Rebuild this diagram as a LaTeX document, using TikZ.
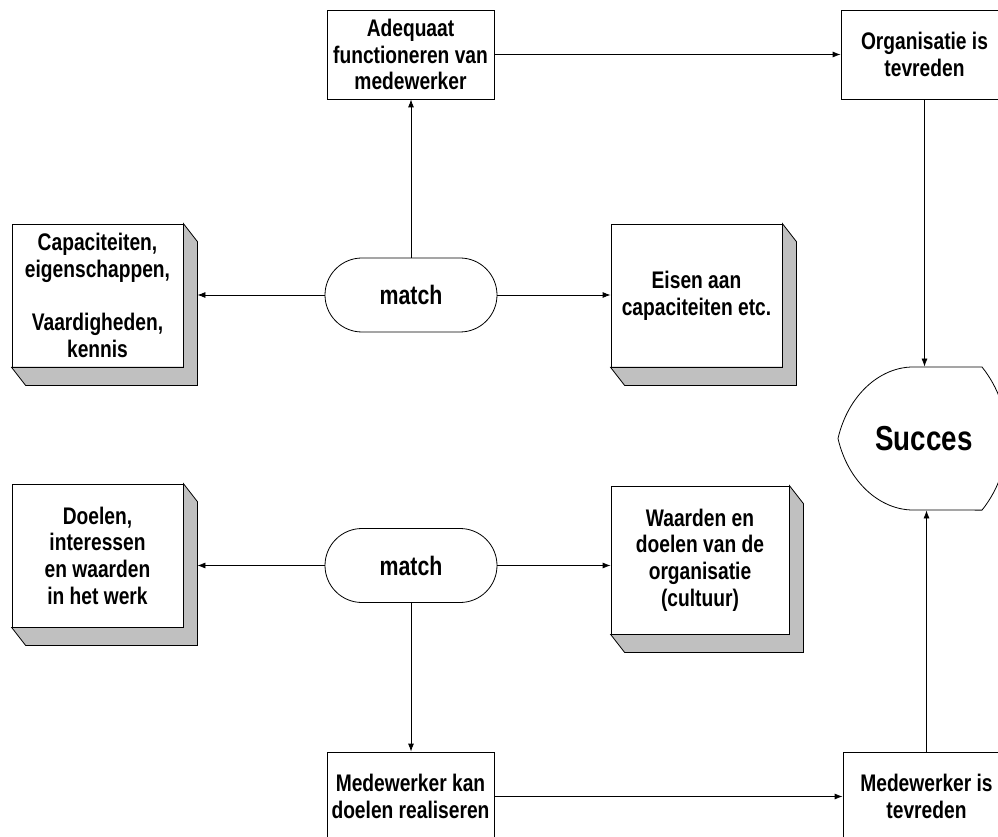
\documentclass[tikz,border=0pt]{standalone}
\usepackage{fontspec}
\setmainfont{Liberation Sans}[FakeStretch=0.8]
\usepackage{tikz}
\usetikzlibrary{shapes.misc}
\usetikzlibrary{calc}
\usetikzlibrary{arrows.meta}
\definecolor{sidegray}{RGB}{192,192,192}

\tikzset{
  boxtext/.style={font=\bfseries\fontsize{18}{20}\selectfont, align=center, inner sep=0pt},
  flatbox/.style={boxtext, draw, fill=white, minimum width=125.25pt, minimum height=66.75pt},
  deepbox/.style={boxtext, draw, fill=white, minimum width=128.25pt, minimum height=107.25pt},
  matchbox/.style={rounded rectangle, draw, fill=white, inner sep=0pt,
    font=\bfseries\fontsize{20}{22}\selectfont, minimum width=129pt, minimum height=55.5pt},
  link/.style={-{Latex[length=6pt,width=4.5pt]}, line width=0.6pt}
}

\begin{document}
\begin{tikzpicture}[x=0.75pt,y=0.75pt,yscale=-1,line width=0.6pt]
\useasboundingbox (0,0) rectangle (998,837);
\clip (0,0) rectangle (998,837);

% Top row
\node[flatbox] (adeq) at (410.5,54.5) {Adequaat\\functioneren van\\medewerker};
\node[flatbox] (org) at (924.5,54.5) {Organisatie is\\tevreden};

% Upper match row
\node[deepbox] (cap) at (97.5,295.5) {Capaciteiten,\\eigenschappen,\\~\\Vaardigheden,\\kennis};
\node[matchbox] (match1) at (411,295) {match};
\node[deepbox] (eis) at (696.5,295.5) {Eisen aan\\capaciteiten etc.};

% Lower match row
\node[deepbox] (doel) at (97.5,555.5) {Doelen,\\interessen\\en waarden\\in het werk};
\node[matchbox] (match2) at (411,565.5) {match};
\node[deepbox, minimum width=133.5pt, minimum height=111pt] (waard) at (700,560) {Waarden en\\doelen van de\\organisatie\\(cultuur)};

% Bottom row
\node[flatbox] (mkan) at (410.5,796.5) {Medewerker kan\\doelen realiseren};
\node[flatbox] (mtev) at (926.5,796.5) {Medewerker is\\tevreden};

% depth of the raised boxes
\foreach \b in {cap,eis,doel,waard}{
  \draw[fill=sidegray] (\b.north east) -- ++(14,18) -- ($(\b.south east)+(14,18)$)
    -- ($(\b.south west)+(14,18)$) -- (\b.south west) -- (\b.south east) -- cycle;
}

%Shape: Display
\node[font=\bfseries\fontsize{26}{28}\selectfont, inner sep=0pt, minimum height=107.25pt] (succ) at (924,438.5) {Succes};
\draw (838,438.5) .. controls (848,395) and (880,367) .. (913,367) -- (982,367)
  arc[start angle=-38.6, end angle=38.6, radius=114.7] -- (913,510)
  .. controls (880,510) and (848,482) .. cycle;

% Connectors
\draw[link] (match1.north) -- (match1.north |- adeq.south);
\draw[link] (adeq.east) -- (adeq.east -| org.west);
\draw[link] (org.south) -- (org.south |- succ.north);
\draw[link] (match1.west) -- ($(match1.west -| cap.east)+(14,0)$);
\draw[link] (match1.east) -- (match1.east -| eis.west);
\draw[link] (match2.west) -- ($(match2.west -| doel.east)+(14,0)$);
\draw[link] (match2.east) -- (match2.east -| waard.west);
\draw[link] (match2.south) -- (match2.south |- mkan.north);
\draw[link] (mkan.east) -- (mkan.east -| mtev.west);
\draw[link] (mtev.north) -- (mtev.north |- succ.south);
\end{tikzpicture}
\end{document}
